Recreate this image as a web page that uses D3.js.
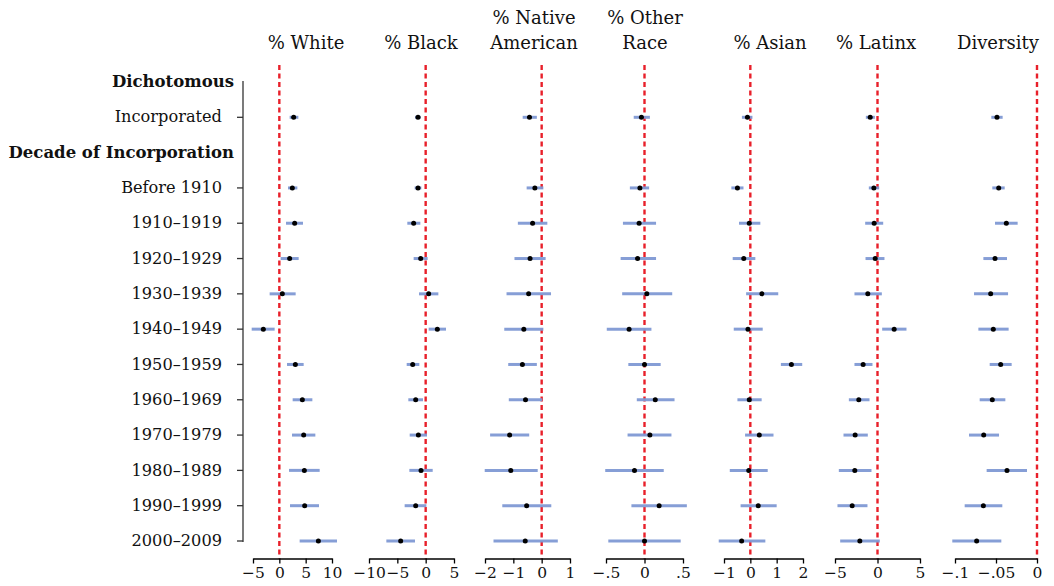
<!DOCTYPE html>
<html>
<head>
<meta charset="utf-8">
<script src="https://cdn.jsdelivr.net/npm/d3@7"></script>
<style>
  body { margin: 0; background: #fff; }
  svg { font-family: "DejaVu Serif", serif; }
</style>
</head>
<body>
<script>
// rows of the chart (headers have no estimates)
const rows = ["Dichotomous", "Incorporated", "Decade of Incorporation", "Before 1910",
  "1910–1919", "1920–1929", "1930–1939", "1940–1949", "1950–1959",
  "1960–1969", "1970–1979", "1980–1989", "1990–1999", "2000–2009"];
const headers = ["Dichotomous", "Decade of Incorporation"];
const dataRows = rows.filter(r => !headers.includes(r));

// [estimate, ci low, ci high] per data row
const white = [[2.72, 1.96, 3.61], [2.47, 1.65, 3.42], [2.91, 1.27, 4.49], [1.96, 0.25, 3.67],
  [0.57, -1.84, 3.10], [-3.04, -5.25, -0.89], [3.04, 1.46, 4.62], [4.37, 2.53, 6.27],
  [4.62, 2.41, 6.84], [4.75, 1.84, 7.66], [4.81, 2.03, 7.53], [7.41, 3.86, 10.95]];
const black = [[-1.35, -1.88, -0.88], [-1.35, -1.94, -0.76], [-2.12, -3.24, -0.94], [-0.88, -2.12, 0.35],
  [0.53, -1.18, 2.24], [2.06, 0.53, 3.59], [-2.29, -3.35, -1.12], [-1.76, -3.06, -0.47],
  [-1.29, -2.82, 0.24], [-0.82, -2.88, 1.24], [-1.76, -3.71, 0.12], [-4.41, -6.94, -1.88]];
const nativeAm = [[-0.43, -0.67, -0.17], [-0.24, -0.53, 0.06], [-0.32, -0.84, 0.20], [-0.41, -0.96, 0.14],
  [-0.46, -1.24, 0.33], [-0.63, -1.32, 0.06], [-0.68, -1.18, -0.17], [-0.57, -1.16, 0.02],
  [-1.13, -1.82, -0.44], [-1.09, -2.01, -0.14], [-0.53, -1.39, 0.34], [-0.58, -1.70, 0.57]];
const otherRace = [[-0.04, -0.14, 0.07], [-0.06, -0.19, 0.06], [-0.07, -0.28, 0.15], [-0.09, -0.31, 0.15],
  [0.03, -0.29, 0.36], [-0.20, -0.49, 0.09], [0.00, -0.21, 0.21], [0.14, -0.10, 0.39],
  [0.07, -0.22, 0.35], [-0.13, -0.51, 0.25], [0.19, -0.17, 0.55], [0.00, -0.47, 0.47]];
const asian = [[-0.11, -0.32, 0.08], [-0.49, -0.72, -0.26], [-0.04, -0.43, 0.38], [-0.25, -0.67, 0.19],
  [0.44, -0.16, 1.06], [-0.09, -0.63, 0.47], [1.56, 1.16, 1.97], [-0.04, -0.49, 0.43],
  [0.34, -0.20, 0.88], [-0.06, -0.78, 0.66], [0.30, -0.37, 1.00], [-0.33, -1.20, 0.57]];
const latinx = [[-0.86, -1.37, -0.31], [-0.43, -1.02, 0.20], [-0.39, -1.45, 0.67], [-0.27, -1.41, 0.82],
  [-1.14, -2.71, 0.51], [1.96, 0.55, 3.41], [-1.69, -2.71, -0.59], [-2.20, -3.37, -0.94],
  [-2.63, -4.00, -1.14], [-2.67, -4.55, -0.71], [-2.98, -4.71, -1.18], [-2.08, -4.39, 0.27]];
const diversity = [[-0.0488, -0.0557, -0.0419], [-0.0467, -0.0545, -0.0394], [-0.0374, -0.0512, -0.0236], [-0.0512, -0.0654, -0.0366],
  [-0.0565, -0.0768, -0.0353], [-0.0533, -0.0715, -0.0346], [-0.0443, -0.0577, -0.0309], [-0.0545, -0.0699, -0.0386],
  [-0.0650, -0.0829, -0.0463], [-0.0366, -0.0614, -0.0122], [-0.0654, -0.0882, -0.0423], [-0.0736, -0.1033, -0.0435]];

// panel titles and tick values / labels
const titles = [["% White"], ["% Black"], ["% Native", "American"], ["% Other", "Race"], ["% Asian"], ["% Latinx"], ["Diversity"]];
const ticks = [[-5, 0, 5, 10], [-10, -5, 0, 5], [-2, -1, 0, 1], [-0.5, 0, 0.5], [-1, 0, 1, 2], [-5, 0, 5], [-0.1, -0.05, 0]];
const tickLabels = [["−5", "0", "5", "10"], ["−10", "−5", "0", "5"], ["−2", "−1", "0", "1"], ["−.5", "0", ".5"],
  ["−1", "0", "1", "2"], ["−5", "0", "5"], ["−.1", "−.05", "0"]];
const series = [white, black, nativeAm, otherRace, asian, latinx, diversity];

// layout: pixel span of each panel's axis and title centre
const spans = [[253, 332], [369, 454], [485, 570], [606, 683], [724, 803], [835, 920], [955, 1037]];
const titleX = [306, 421, 534, 645, 770, 876, 998];

const width = 1054, height = 586;
const svg = d3.select("body").append("svg")
  .attr("width", width).attr("height", height);

const y = d3.scalePoint().domain(rows).range([82, 541]);
const axisY = 558.5;

// left axis
svg.append("line")
  .attr("x1", 243).attr("x2", 243)
  .attr("y1", y(rows[0]) - 1).attr("y2", y(rows[rows.length - 1]) + 1)
  .attr("stroke", "#333").attr("stroke-width", 1.3);

svg.append("g").selectAll("line")
  .data(dataRows)
  .join("line")
  .attr("x1", 237).attr("x2", 243)
  .attr("y1", d => y(d)).attr("y2", d => y(d))
  .attr("stroke", "#333").attr("stroke-width", 1.3);

svg.append("g").selectAll("text")
  .data(rows)
  .join("text")
  .attr("x", d => headers.includes(d) ? 234 : 222)
  .attr("y", d => y(d))
  .attr("dy", "0.32em")
  .attr("text-anchor", "end")
  .attr("font-size", d => headers.includes(d) ? 16.5 : 16.2)
  .attr("font-weight", d => headers.includes(d) ? "bold" : "normal")
  .attr("fill", "#111")
  .text(d => d);

series.forEach((vals, p) => {
  const t = ticks[p];
  const x = d3.scaleLinear().domain([t[0], t[t.length - 1]]).range(spans[p]);
  const g = svg.append("g");

  // reference line at zero
  g.append("line")
    .attr("x1", x(0)).attr("x2", x(0))
    .attr("y1", 65).attr("y2", axisY)
    .attr("stroke", "#e8202a").attr("stroke-width", 2.4)
    .attr("stroke-dasharray", "5,3.5");

  // confidence intervals
  g.selectAll("line.ci")
    .data(vals)
    .join("line")
    .attr("class", "ci")
    .attr("x1", d => x(d[1])).attr("x2", d => x(d[2]))
    .attr("y1", (d, i) => y(dataRows[i])).attr("y2", (d, i) => y(dataRows[i]))
    .attr("stroke", "#7f99d4").attr("stroke-width", 3).attr("stroke-opacity", 0.95);

  g.selectAll("circle")
    .data(vals)
    .join("circle")
    .attr("cx", d => x(d[0]))
    .attr("cy", (d, i) => y(dataRows[i]))
    .attr("r", 2.5)
    .attr("fill", "#000");

  // bottom axis
  const ax = g.append("g")
    .attr("transform", `translate(0,${axisY})`)
    .call(d3.axisBottom(x).tickValues(t).tickSize(5).tickSizeOuter(0)
      .tickFormat((d, i) => tickLabels[p][i]));
  ax.select(".domain").attr("stroke", "#000").attr("stroke-width", 1.3);
  ax.selectAll(".tick line").attr("stroke", "#000").attr("stroke-width", 1.3);
  ax.selectAll("text").attr("font-size", 15.5).attr("font-family", "DejaVu Serif").attr("fill", "#111").attr("y", 8);

  // title
  const lines = titles[p];
  g.append("text")
    .attr("text-anchor", "middle")
    .attr("font-size", 18)
    .attr("fill", "#111")
    .selectAll("tspan")
    .data(lines)
    .join("tspan")
    .attr("x", titleX[p])
    .attr("y", (d, i) => 49 - (lines.length - 1 - i) * 25)
    .text(d => d);
});
</script>
</body>
</html>
